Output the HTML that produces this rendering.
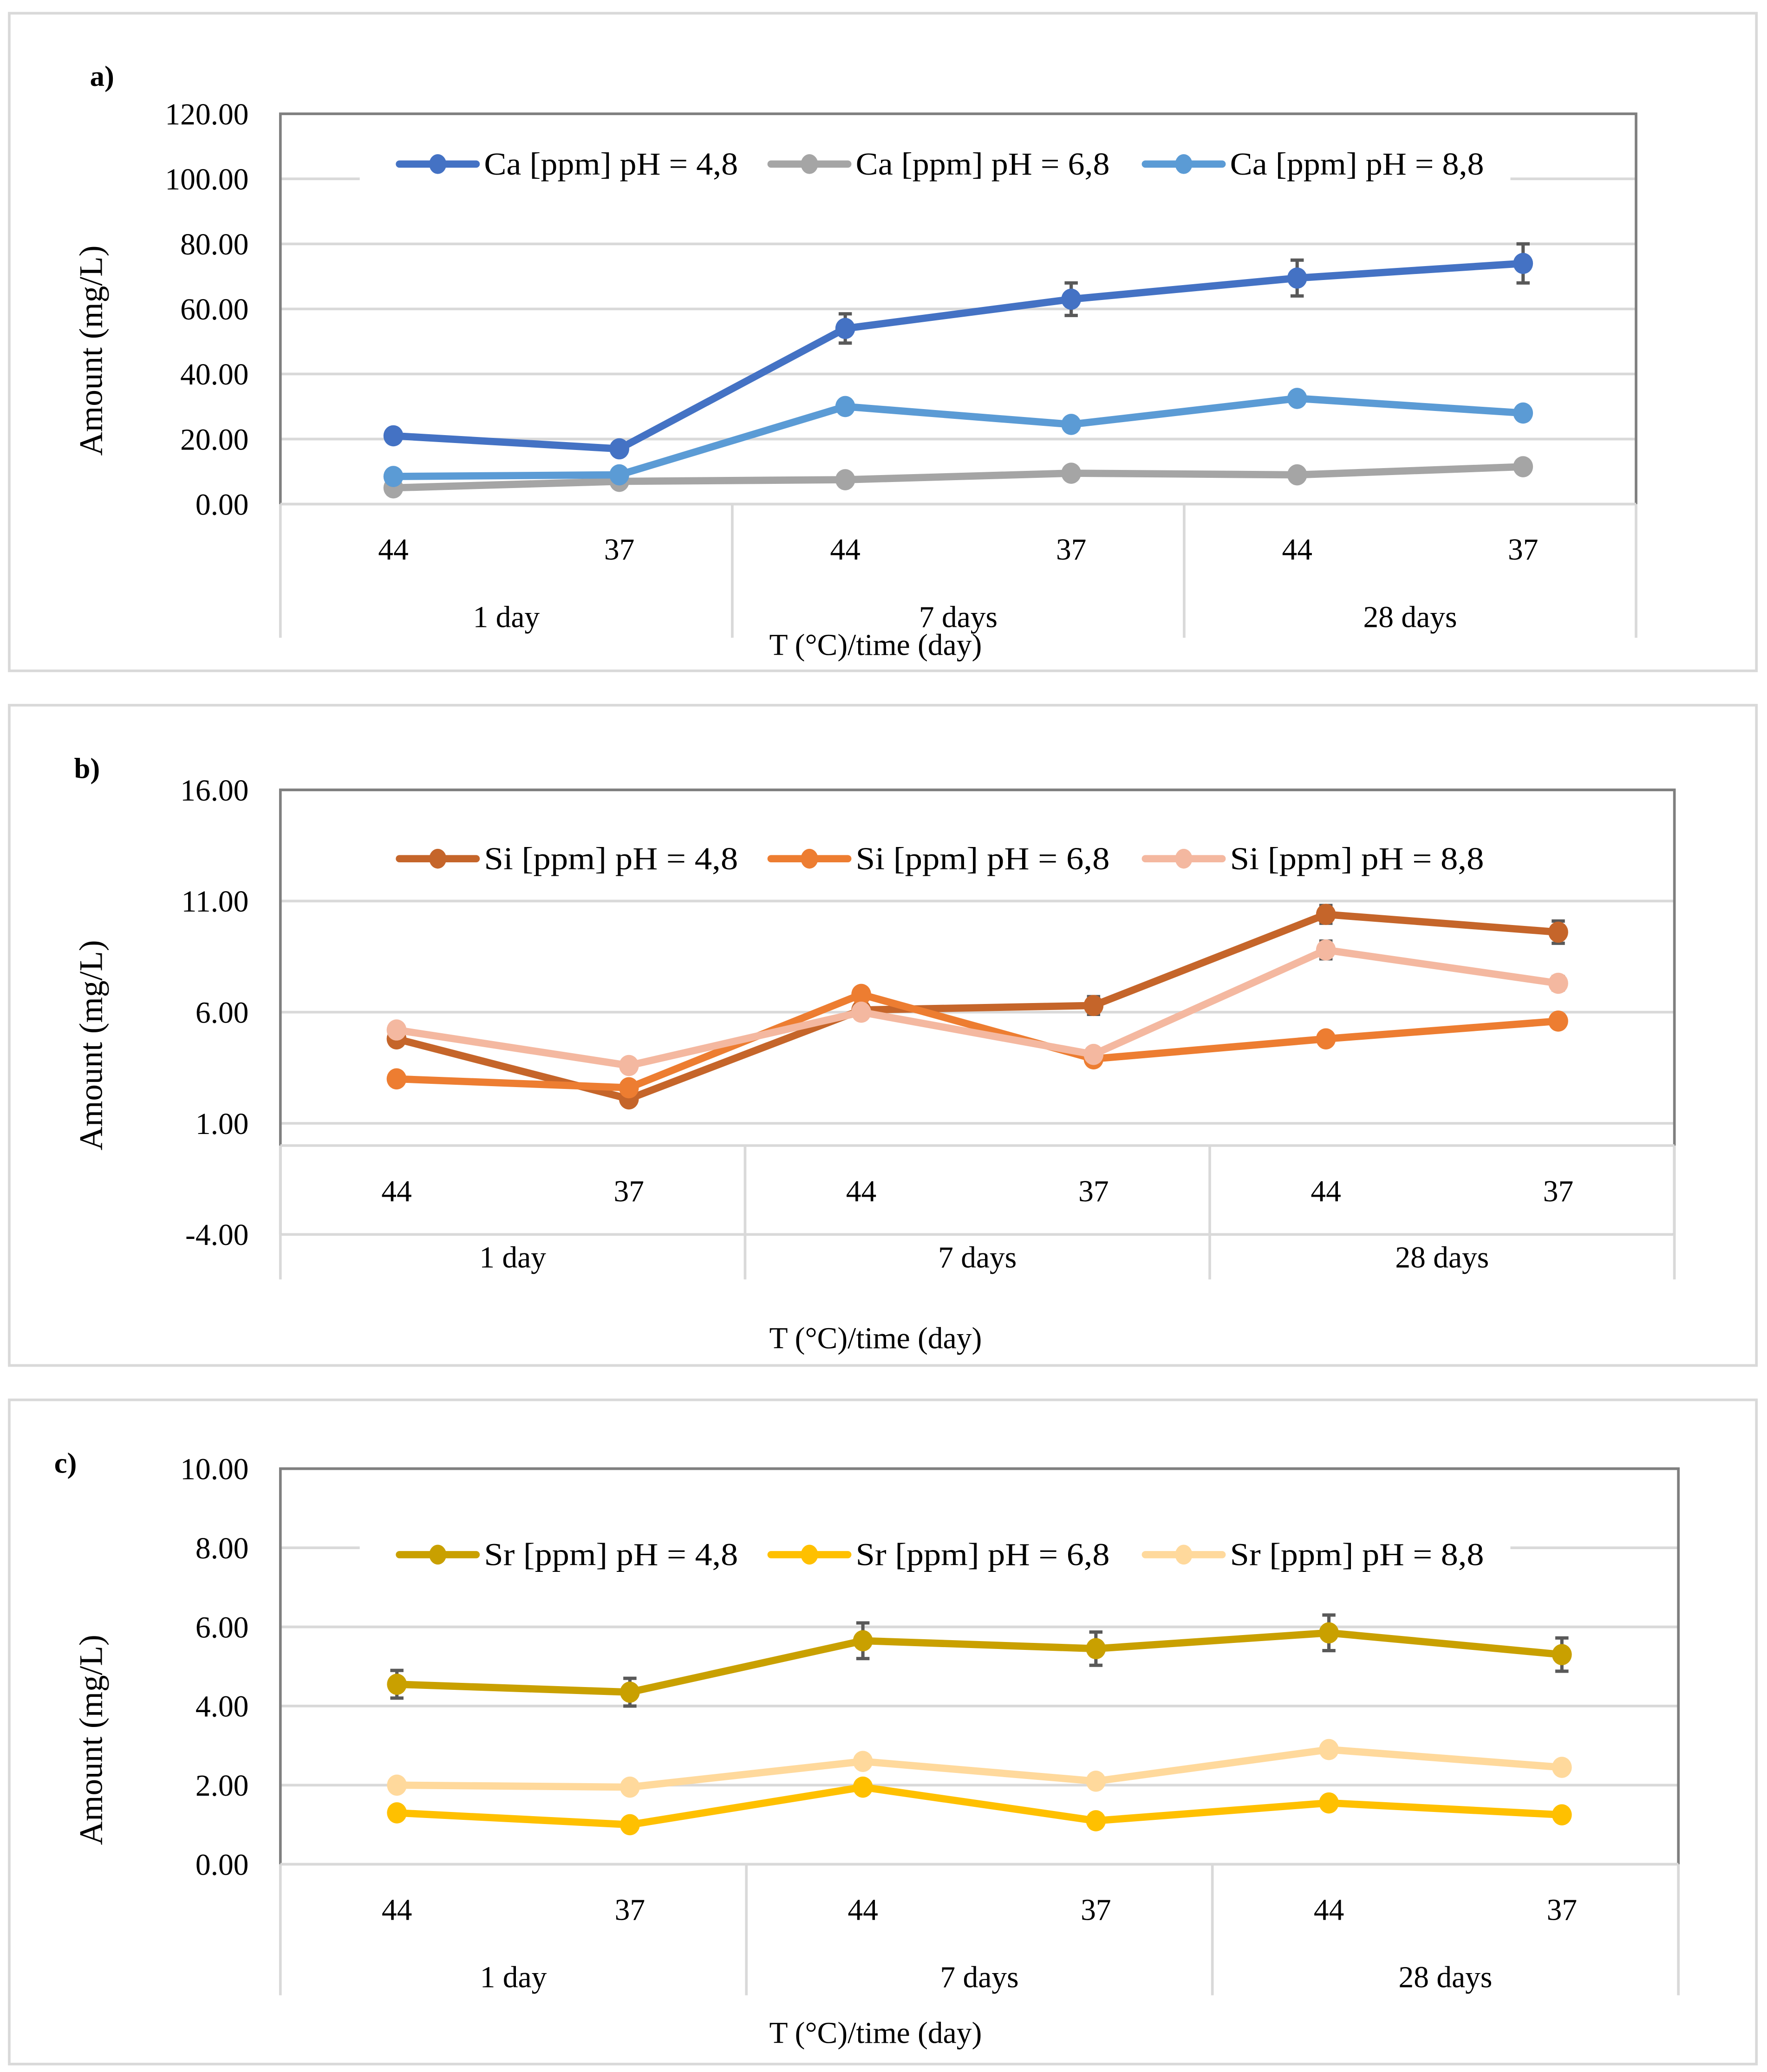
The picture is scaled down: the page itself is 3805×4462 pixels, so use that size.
<!DOCTYPE html>
<html><head><meta charset="utf-8"><style>
html,body{margin:0;padding:0;background:#fff;}
svg{display:block;}
text{font-family:"Liberation Serif",serif;fill:#000;}
</style></head><body>
<svg id="chart" width="3805" height="4462" viewBox="0 0 1336 1566" preserveAspectRatio="none" xmlns="http://www.w3.org/2000/svg"></svg>
<script>
const categories = ["44","37","44","37","44","37"];
const groups = ["1 day","7 days","28 days"];
const caNames = ["Ca [ppm] pH = 4,8","Ca [ppm] pH = 6,8","Ca [ppm] pH = 8,8"];
const ca48 = [21, 17, 54, 63, 69.5, 74];
const ca48Err = [0, 0, 4.5, 5, 5.5, 6];
const ca68 = [5, 7, 7.5, 9.5, 9, 11.5];
const ca88 = [8.5, 9, 30, 24.5, 32.5, 28];
const caTicks = ["0.00","20.00","40.00","60.00","80.00","100.00","120.00"];
const siNames = ["Si [ppm] pH = 4,8","Si [ppm] pH = 6,8","Si [ppm] pH = 8,8"];
const si48 = [4.8, 2.1, 6.1, 6.3, 10.4, 9.6];
const si48Err = [0, 0, 0.3, 0.4, 0.4, 0.5];
const si68 = [3.0, 2.6, 6.8, 3.9, 4.8, 5.6];
const si88 = [5.2, 3.6, 6.0, 4.1, 8.8, 7.3];
const si88Err = [0, 0, 0, 0, 0.4, 0.3];
const siTicks = ["-4.00","1.00","6.00","11.00","16.00"];
const srNames = ["Sr [ppm] pH = 4,8","Sr [ppm] pH = 6,8","Sr [ppm] pH = 8,8"];
const sr48 = [4.55, 4.35, 5.65, 5.45, 5.85, 5.3];
const sr48Err = [0.35, 0.35, 0.45, 0.42, 0.45, 0.42];
const sr68 = [1.3, 1.0, 1.95, 1.1, 1.55, 1.25];
const sr88 = [2.0, 1.95, 2.6, 2.1, 2.9, 2.45];
const srTicks = ["0.00","2.00","4.00","6.00","8.00","10.00"];

const NS="http://www.w3.org/2000/svg";
const svg=document.getElementById('chart');
function mk(tag,attrs,parent){const e=document.createElementNS(NS,tag);for(const k in attrs)e.setAttribute(k,attrs[k]);(parent||svg).appendChild(e);return e;}
function txt(x,y,s,anchor,size,parent){const t=mk('text',{x:x,y:y,'text-anchor':anchor||'middle','font-size':size||23},parent);t.textContent=s;return t;}

function panel(cfg){
  const g=mk('g',{});
  
  
  const fr=mk('rect',{x:7,y:cfg.boxTop,width:1321,height:cfg.boxH,fill:'#fff',stroke:'#d9d9d9','stroke-width':2},g);
  
  
  const L=212,R=cfg.right,T=cfg.top,B=cfg.bottom;
  const ymin=cfg.ymin,ymax=cfg.ymax;
  const y=v=>B-(v-ymin)/(ymax-ymin)*(B-T);
  const step=(R-L)/6;
  const x=i=>L+step*(i+0.5);
  cfg.ticks.forEach(tl=>{const v=parseFloat(tl);const yy=y(v);
    const gl=mk('line',{x1:L,x2:R,y1:yy,y2:yy,stroke:'#d9d9d9','stroke-width':2},g);
    
    
    const t=txt(L-24,yy+8,tl,'end',23,g);
    
    
  });
  const pb=mk('path',{d:`M${L},${B} L${L},${T} L${R},${T} L${R},${B}`,fill:'none',stroke:'#7f7f7f','stroke-width':2},g);
  
  
  const ay=y(0);
  const ax=mk('line',{x1:L,x2:R,y1:ay,y2:ay,stroke:'#d9d9d9','stroke-width':2},g);
  
  
  for(let k=0;k<=3;k++){const xx=L+k*2*step;
    const s=mk('line',{x1:xx,x2:xx,y1:ay,y2:cfg.sepBottom,stroke:'#d9d9d9','stroke-width':2},g);
    
    }
  categories.forEach((c,i)=>{const t=txt(x(i),cfg.catY,c,'middle',23,g);
    
    });
  groups.forEach((c,i)=>{const t=txt(L+step*(2*i+1),cfg.grpY,c,'middle',23,g);
    
    });
  const xt=txt(662,cfg.titleY,'T (°C)/time (day)','middle',23,g);
  
  
  const yt=mk('text',{x:0,y:0,'text-anchor':'middle','font-size':25,transform:`translate(77,${cfg.yTitleY}) rotate(-90)`},g);
  yt.textContent='Amount (mg/L)';
  
  
  const pl=mk('text',{x:cfg.labelX,y:cfg.boxTop+55,'font-size':22,'font-weight':'bold'},g);
  pl.textContent=cfg.label;
  
  
  const lb=mk('rect',{x:272,y:cfg.legY-24,width:870,height:46,fill:'#fff'},g);
  
  
  const legX=[302,583,866];
  cfg.series.forEach((s,si)=>{
    const lg=mk('g',{},g);
    
    
    mk('line',{x1:legX[si],x2:legX[si]+58,y1:cfg.legY,y2:cfg.legY,stroke:s.color,'stroke-width':5.5,'stroke-linecap':'round'},lg);
    mk('ellipse',{cx:legX[si]+29,cy:cfg.legY,rx:6.5,ry:7.5,fill:s.color},lg);
    const t=txt(legX[si]+64,cfg.legY+8,cfg.names[si],'start',24,lg);
    t.setAttribute('textLength',192);
    t.setAttribute('lengthAdjust','spacingAndGlyphs');
  });
  cfg.series.forEach(s=>{
    const sg=mk('g',{},g);
    
    
    const pts=s.vals.map((v,i)=>x(i)+','+y(v)).join(' ');
    const pl=mk('polyline',{points:pts,fill:'none',stroke:s.color,'stroke-width':5.5,'stroke-linejoin':'round'},sg);
    
    
    s.vals.forEach((v,i)=>{
      if(s.err&&s.err[i]>0){const e=s.err[i];
        const eb=mk('path',{d:`M${x(i)},${y(v+e)} L${x(i)},${y(v-e)} M${x(i)-5},${y(v+e)} L${x(i)+5},${y(v+e)} M${x(i)-5},${y(v-e)} L${x(i)+5},${y(v-e)}`,stroke:'#595959','stroke-width':2.5,fill:'none'},sg);
        
        }
      const p=mk('ellipse',{cx:x(i),cy:y(v),rx:7.5,ry:8,fill:s.color},sg);
      
      
    });
  });
}

panel({id:'panel-a-calcium',label:'a)',labelX:68,boxTop:10,boxH:497,right:1237,top:86,bottom:381,ymin:0,ymax:120,ticks:caTicks,
  catY:423,grpY:474,titleY:495,sepBottom:482,legY:124,names:caNames,yTitleY:265,
  series:[{key:'ca-48',vals:ca48,err:ca48Err,color:'#4472C4'},{key:'ca-68',vals:ca68,color:'#A5A5A5'},{key:'ca-88',vals:ca88,color:'#5B9BD5'}]});
panel({id:'panel-b-silicon',label:'b)',labelX:56,boxTop:533,boxH:499,right:1266,top:597,bottom:933,ymin:-4,ymax:16,ticks:siTicks,
  catY:908,grpY:958,titleY:1019,sepBottom:967,legY:649,names:siNames,yTitleY:790,
  series:[{key:'si-48',vals:si48,err:si48Err,color:'#C5652A'},{key:'si-68',vals:si68,color:'#ED7D31'},{key:'si-88',vals:si88,err:si88Err,color:'#F4B8A0'}]});
panel({id:'panel-c-strontium',label:'c)',labelX:41,boxTop:1058,boxH:502,right:1269,top:1110,bottom:1409,ymin:0,ymax:10,ticks:srTicks,
  catY:1451,grpY:1502,titleY:1544,sepBottom:1508,legY:1175,names:srNames,yTitleY:1315,
  series:[{key:'sr-48',vals:sr48,err:sr48Err,color:'#C9A000'},{key:'sr-68',vals:sr68,color:'#FFC000'},{key:'sr-88',vals:sr88,color:'#FFD99C'}]});
</script>
</body></html>
